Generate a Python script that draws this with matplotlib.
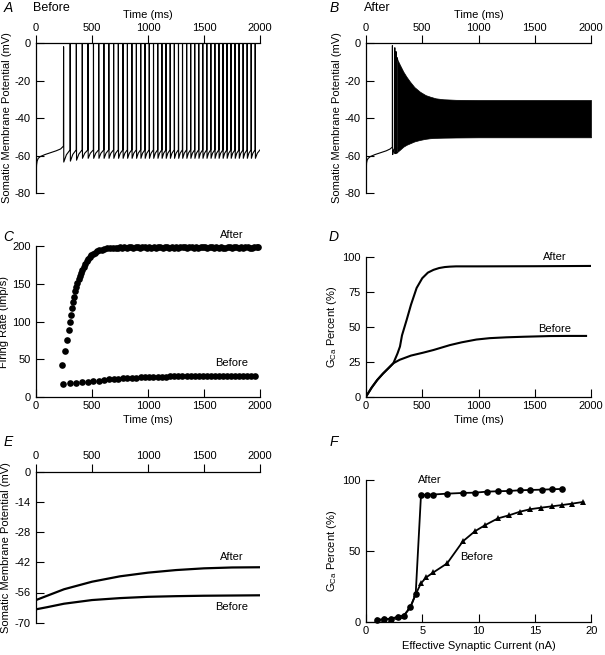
import numpy as np
import matplotlib
matplotlib.use("Agg")
from matplotlib import pyplot as plt

plt.rcParams['font.family'] = ['Liberation Sans', 'DejaVu Sans']
plt.rcParams['font.size'] = 8
plt.rcParams['axes.unicode_minus'] = False
plt.rcParams['mathtext.fontset'] = 'custom'
plt.rcParams['mathtext.rm'] = 'Liberation Sans'
plt.rcParams['axes.linewidth'] = 0.9

# ---- A: somatic trace before (rest segment + spike times)
rest_a_t = [0, 2, 5, 10, 20, 40, 80, 130, 180, 220, 245]
rest_a_v = [-74, -69, -65, -63, -61.5, -60.5, -59.5, -58.5, -57.5, -56.5, -55]
spikes_a = [245, 304, 359, 412, 463, 512, 559, 605, 649, 692, 734, 775, 815, 855, 895,
            934, 972, 1010, 1048, 1086, 1123, 1160, 1197, 1234, 1271, 1307, 1344, 1380,
            1416, 1452, 1488, 1524, 1560, 1596, 1632, 1668, 1704, 1740, 1776, 1812, 1848,
            1884, 1920, 1956]
peak_a = [-2] + [0] * 43
trough_a = [-63.5, -63, -62.5] + [-61.5] * 41
thresh_a = -57

# ---- B: somatic trace after
rest_b_t = [0, 2, 5, 10, 20, 40, 80, 130, 180, 215, 234]
rest_b_v = [-73, -68, -64, -62.5, -61.5, -60.5, -59.5, -58.5, -57.5, -56.5, -55.5]
spikes_b = [234, 255, 267]
peak_b = [-1.4, -2.5, -4.6]
trough_b = [-59.5, -59, -58.8]
thresh_b = -56
env_t = [274, 280, 300, 332, 360, 391, 430, 480, 530, 569, 620, 687, 800, 1000, 1500, 2000]
env_hi = [-7.5, -9, -11.5, -15.3, -18, -20.6, -23.5, -26, -27.8, -28.6, -29.5, -30, -30.3,
          -30.4, -30.4, -30.4]
env_lo = [-58.5, -58, -57, -55.3, -54.3, -53.5, -52.5, -51.7, -51.1, -50.8, -50.6, -50.5,
          -50.4, -50.3, -50.3, -50.3]

# ---- C: firing rate
before_rate = [17.0, 18.2, 18.9, 19.6, 20.4, 21.3, 21.7, 22.7, 23.3, 23.8,
               24.4, 24.7, 25.0, 25.3, 25.6, 26.0, 26.1, 26.3, 26.5, 26.7, 26.9, 27.0,
               27.2, 27.3, 27.4, 27.5, 27.6, 27.6, 27.7, 27.7] + [27.8] * 14
after_t = [235, 259, 277, 292, 301, 310, 320, 330, 340, 350, 360, 370, 380, 390, 400, 412,
           425, 438, 452, 466, 480, 495, 510, 527, 545, 565, 587, 610, 635, 660, 685, 710,
           730, 750, 770, 790, 810, 830, 850, 870, 890, 910, 930, 950, 970, 990,
           1010, 1030, 1050, 1070, 1090, 1110, 1130, 1150, 1170, 1190,
           1210, 1230, 1250, 1270, 1290, 1310, 1330, 1350, 1370, 1390,
           1410, 1430, 1450, 1470, 1490, 1510, 1530, 1550, 1570, 1590,
           1610, 1630, 1650, 1670, 1690, 1710, 1730, 1750, 1770, 1790,
           1810, 1830, 1850, 1870, 1890, 1910, 1930, 1950, 1970, 1985]
after_rate = [42, 61, 76, 89, 99, 108, 118, 126, 133, 140, 146, 151, 156, 160, 164, 168,
              172, 176, 179.5, 182.5, 185, 187.5, 189.5, 191.3, 192.8, 194.2, 195.3, 196.2,
              196.8, 197.2, 197.5, 197.8,
              197.6, 198.3, 197.4, 198.5, 197.7, 198.2, 198.9, 197.8, 198.1, 198.6,
              197.3, 198.2, 198.7, 197.9, 198.3, 197.6, 198.8, 197.7, 198.4, 198.1,
              197.5, 198.7, 198.2, 197.9, 198.6, 197.4, 198.3, 197.7, 198.4, 198.9,
              198.1, 197.6, 198.5, 198.2, 197.4, 198.8, 197.8, 198.3, 198.7, 198.1,
              197.5, 198.4, 198.9, 197.9, 198.3, 197.6, 198.6, 198.0, 197.7, 198.8,
              198.2, 197.5, 198.6, 198.1, 197.8, 198.7, 197.6, 198.4, 198.9, 198.0,
              197.7, 198.5, 198.2, 198.3]

# ---- D: GCa percent vs time
d_after_t = [0, 50, 100, 150, 200, 243, 280, 302, 320, 361, 400, 450, 500, 550, 600, 650,
             700, 745, 800, 1000, 1500, 2000]
d_after_v = [0, 6.5, 12, 16.5, 20.5, 24, 31, 36, 44, 55, 66, 78, 85, 89, 91, 92.3, 93,
             93.3, 93.5, 93.5, 93.6, 93.8]
d_before_t = [0, 50, 100, 150, 200, 243, 300, 400, 509, 600, 745, 850, 981, 1100, 1248,
              1400, 1632, 1800, 1956]
d_before_v = [0, 6.5, 12, 16.5, 20.5, 24, 26.5, 29.5, 31.6, 33.5, 37, 39, 41, 42, 42.6,
              43, 43.5, 43.6, 43.6]

# ---- E: somatic membrane potential (no spikes)
e_t = [0, 100, 250, 500, 750, 1000, 1250, 1500, 1750, 2000]
e_after = [-59.5, -57.5, -54.5, -51, -48.5, -46.8, -45.6, -44.8, -44.4, -44.3]
e_before = [-63.8, -62.8, -61.2, -59.5, -58.6, -58, -57.7, -57.5, -57.4, -57.3]

# ---- F: GCa percent vs synaptic current
f_after_x = [1.0, 1.6, 2.2, 2.8, 3.35, 3.93, 4.41, 4.88, 5.38, 5.97, 7.2, 8.6, 9.67, 10.7,
             11.7, 12.7, 13.7, 14.6, 15.6, 16.5, 17.4]
f_after_y = [1.6, 2.1, 2.5, 3.7, 4.6, 10.5, 19.7, 89.2, 89.7, 89.8, 90.4, 90.9, 91.1, 91.8,
             92.1, 92.3, 92.8, 93.0, 93.2, 93.5, 93.7]
f_before_x = [1.0, 1.6, 2.2, 2.8, 3.35, 3.93, 4.41, 4.88, 5.35, 5.97, 7.2, 8.6, 9.67, 10.6,
              11.7, 12.7, 13.7, 14.6, 15.5, 16.5, 17.4, 18.3, 19.3]
f_before_y = [1.6, 2.1, 2.5, 3.7, 4.6, 10.5, 19.7, 27.4, 31.6, 35, 41.4, 56.9, 64, 68.4,
              73, 75.2, 77.8, 79.5, 80.5, 81.5, 82.4, 83.4, 84.6]


def spike_trace(rest_t, rest_v, spikes, peaks, troughs, thresh, t_end):
    t = list(rest_t)
    v = list(rest_v)
    for i, s in enumerate(spikes):
        nxt = spikes[i + 1] if i + 1 < len(spikes) else t_end
        isi = nxt - s
        t += [s + 0.5, s + 1.2, s + 3, s + 0.45 * isi, nxt]
        v += [peaks[i], peaks[i], troughs[i],
              troughs[i] + 0.6 * (thresh - troughs[i]), thresh]
    return t, v


def style_top(ax, yticks, ylabel, xlabel=None):
    ax.set_xlim(0, 2000)
    ax.set_ylim(yticks[-1], yticks[0])
    ax.spines['bottom'].set_visible(False)
    ax.spines['right'].set_visible(False)
    ax.xaxis.tick_top()
    ax.set_xticks([0, 500, 1000, 1500, 2000])
    ax.set_yticks(yticks)
    ax.tick_params(axis='x', direction='out', length=5.5, width=0.8, pad=2)
    ax.tick_params(axis='y', direction='in', length=5.5, width=0.8, pad=4)
    if xlabel:
        ax.set_xlabel(xlabel, labelpad=3)
        ax.xaxis.set_label_position('top')
    ax.set_ylabel(ylabel, labelpad=2)


def style_bottom(ax, xlim, xticks, yticks, ylabel, xlabel):
    ax.set_xlim(*xlim)
    ax.set_ylim(yticks[0], yticks[-1])
    ax.spines['top'].set_visible(False)
    ax.spines['right'].set_visible(False)
    ax.set_xticks(xticks)
    ax.set_yticks(yticks)
    ax.tick_params(axis='x', direction='in', length=5.5, width=0.8, pad=3)
    ax.tick_params(axis='y', direction='in', length=5.5, width=0.8, pad=4)
    ax.set_xlabel(xlabel, labelpad=3)
    ax.set_ylabel(ylabel, labelpad=2)


fig = plt.figure(figsize=(6.05, 6.55), dpi=100)
W, H = 605, 655


def add_ax(left, right, top, bottom):
    return fig.add_axes([left / W, 1 - bottom / H, (right - left) / W, (bottom - top) / H])


# A
axA = add_ax(36, 260, 43, 193)
ta, va = spike_trace(rest_a_t, rest_a_v, spikes_a, peak_a, trough_a, thresh_a, 2000)
axA.plot(ta, va, color='black', lw=0.8)
style_top(axA, [0, -20, -40, -60, -80], 'Somatic Membrane Potential (mV)', 'Time (ms)')

# B
axB = add_ax(366, 591, 43, 193)
tb, vb = spike_trace(rest_b_t, rest_b_v, spikes_b, peak_b, trough_b, thresh_b, env_t[0])
axB.plot(tb, vb, color='black', lw=0.8)
axB.fill_between(env_t, env_lo, env_hi, color='black', lw=0.5)
style_top(axB, [0, -20, -40, -60, -80], 'Somatic Membrane Potential (mV)', 'Time (ms)')

# C
axC = add_ax(36, 260, 246, 397)
axC.plot(spikes_a, before_rate, 'o', color='black', ms=4.8, mew=0, clip_on=False)
axC.plot(after_t, after_rate, 'o', color='black', ms=4.8, mew=0, clip_on=False)
style_bottom(axC, (0, 2000), [0, 500, 1000, 1500, 2000], [0, 50, 100, 150, 200],
             'Firing Rate (imp/s)', 'Time (ms)')
axC.text(1747, 214.6, 'After', ha='center', va='center', fontsize=8)
axC.text(1747, 44.6, 'Before', ha='center', va='center', fontsize=8)

# D
axD = add_ax(366, 591, 257.3, 396.7)
axD.plot(d_after_t, d_after_v, color='black', lw=1.5)
axD.plot(d_before_t, d_before_v, color='black', lw=1.5)
style_bottom(axD, (0, 2000), [0, 500, 1000, 1500, 2000], [0, 25, 50, 75, 100],
             r'G$_{\mathrm{Ca}}$ Percent (%)', 'Time (ms)')
axD.text(1680, 100, 'After', ha='center', va='center', fontsize=8)
axD.text(1680, 48.6, 'Before', ha='center', va='center', fontsize=8)

# E
axE = add_ax(36, 260, 471.7, 622.7)
axE.plot(e_t, e_after, color='black', lw=1.6)
axE.plot(e_t, e_before, color='black', lw=1.6)
style_top(axE, [0, -14, -28, -42, -56, -70], 'Somatic Membrane Potential (mV)')
axE.text(1747, -39.7, 'After', ha='center', va='center', fontsize=8)
axE.text(1747, -62.6, 'Before', ha='center', va='center', fontsize=8)

# F
axF = add_ax(366, 591.3, 480, 622.3)
axF.plot(f_before_x, f_before_y, '-^', color='black', lw=1.3, ms=4.6, mew=0, clip_on=False)
axF.plot(f_after_x, f_after_y, '-o', color='black', lw=1.3, ms=4.8, mew=0, clip_on=False)
style_bottom(axF, (0, 20), [0, 5, 10, 15, 20], [0, 50, 100],
             r'G$_{\mathrm{Ca}}$ Percent (%)', 'Effective Synaptic Current (nA)')
axF.text(5.68, 100, 'After', ha='center', va='center', fontsize=8)
axF.text(9.82, 46.1, 'Before', ha='center', va='center', fontsize=8)

# panel letters and titles
for x, y, s in [(8, 8, 'A'), (334, 8, 'B'), (8, 237, 'C'), (334, 237, 'D'),
                (8, 442, 'E'), (334, 442, 'F')]:
    fig.text(x / W, 1 - y / H, s, fontsize=10, style='italic', ha='center', va='center')
fig.text(33 / W, 1 - 8 / H, 'Before', fontsize=9, ha='left', va='center')
fig.text(364 / W, 1 - 8 / H, 'After', fontsize=9, ha='left', va='center')

fig.savefig('out.png', dpi=100)
